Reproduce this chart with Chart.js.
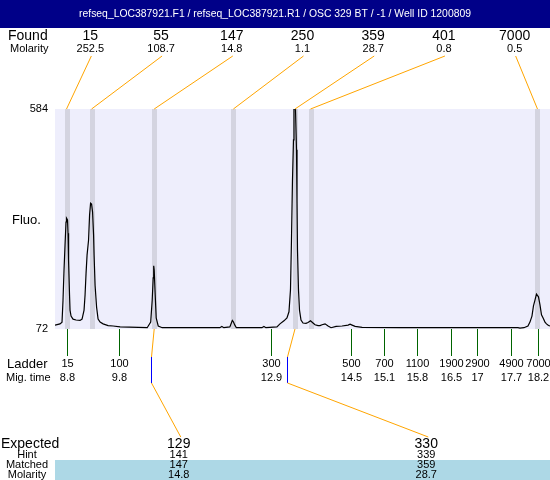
<!DOCTYPE html>
<html>
<head>
<meta charset="utf-8">
<script src="https://cdn.jsdelivr.net/npm/chart.js@4"></script>
<style>
  html, body { margin: 0; padding: 0; background: #fff; }
  canvas { display: block; }
</style>
</head>
<body>
<canvas id="gel" width="550" height="480"></canvas>
<script>
const TITLE = "refseq_LOC387921.F1 / refseq_LOC387921.R1 / OSC 329 BT / -1 / Well ID 1200809";
const FONT = '"Liberation Sans", Arial, sans-serif';

// trace: migration time (s) vs fluorescence
const traceTime = [8.56, 8.66, 8.70, 8.72, 8.74, 8.76, 8.78, 8.79, 8.81, 8.82, 8.83, 8.85, 8.86, 8.88, 8.92, 8.98,
  9.06, 9.10, 9.14, 9.16, 9.18, 9.20, 9.23, 9.25, 9.27, 9.29, 9.31, 9.33, 9.34, 9.36, 9.39, 9.42, 9.46, 9.52,
  9.62, 9.72, 9.86, 10.40, 10.47, 10.50, 10.52, 10.53, 10.54, 10.56, 10.58, 10.62, 10.70, 11.85, 11.89, 11.93,
  12.05, 12.08, 12.10, 12.12, 12.15, 12.18, 12.69, 12.73, 12.77, 12.99, 13.05, 13.13, 13.19, 13.23, 13.26,
  13.28, 13.30, 13.32, 13.33, 13.36, 13.38, 13.39, 13.40, 13.42, 13.44, 13.47, 13.51, 13.57, 13.61, 13.66,
  13.71, 13.75, 13.81, 13.85, 13.89, 13.95, 14.01, 14.07, 14.17, 14.29, 14.41, 14.45, 14.49, 14.55, 14.69,
  15.45, 16.45, 17.80, 17.84, 17.92, 18.00, 18.04, 18.08, 18.11, 18.14, 18.17, 18.21, 18.24, 18.27, 18.30,
  18.34, 18.37, 18.41, 18.44];
const traceFluo = [81, 84, 88, 139, 209, 267, 321, 330, 326, 295, 233, 151, 116, 102, 95, 93,
  92, 95, 116, 151, 202, 244, 279, 337, 365, 363, 344, 291, 244, 174, 123, 95, 88, 84,
  80, 79, 77, 75, 88, 139, 191, 219, 209, 151, 98, 79, 75, 75, 78, 75,
  77, 86, 92, 89, 81, 75, 75, 78, 75, 77, 84, 91, 98, 112, 163,
  279, 419, 512, 584, 584, 489, 372, 256, 163, 116, 93, 86, 85, 87, 91,
  86, 82, 80, 80, 82, 84, 79, 75, 78, 79, 81, 83, 81, 78, 76,
  75, 75, 75, 74, 75, 79, 88, 102, 126, 139, 153, 147, 128, 105, 98,
  88, 84, 80, 79];
const xMin = 8.56, xMax = 18.44;
const yTicks = [72, 584];

// found peaks
const foundSize = [15, 55, 147, 250, 359, 401, 7000];
const foundMolarity = [252.5, 108.7, 14.8, 1.1, 28.7, 0.8, 0.5];
const foundTime = [8.79, 9.29, 10.54, 12.12, 13.35, 13.66, 18.19];

// ladder
const ladderSize = [15, 100, 300, 500, 700, 1100, 1900, 2900, 4900, 7000];
const ladderTime = [8.80, 9.84, 12.87, 14.46, 15.12, 15.78, 16.46, 16.98, 17.67, 18.21];

// expected fragments
const expectedSize = [129, 330];
const expectedTime = [10.48, 13.20];
const hintSize = [141, 339];
const matchedSize = [147, 359];
const matchedMolarity = [14.8, 28.7];

function text(ctx, s, x, y, size, align, color){
  ctx.font = `${size}px ${FONT}`;
  ctx.fillStyle = color || "#000";
  ctx.textAlign = align || "center";
  ctx.textBaseline = "middle";
  ctx.fillText(String(s), x, y);
}

function line(ctx, pts, color){
  ctx.strokeStyle = color;
  ctx.lineWidth = 1;
  ctx.beginPath();
  pts.forEach((p, i) => i ? ctx.lineTo(p[0], p[1]) : ctx.moveTo(p[0], p[1]));
  ctx.stroke();
}

// crisp 1px vertical rule
function vrule(ctx, x, y0, y1, color){
  ctx.fillStyle = color;
  ctx.fillRect(Math.round(x), Math.round(y0), 1, Math.round(y1 - y0));
}

const backdrop = {
  id: "backdrop",
  beforeDraw(chart){
    const { ctx, chartArea: a, scales } = chart;
    const x = scales.x;
    ctx.save();
    ctx.fillStyle = "#fff";
    ctx.fillRect(0, 0, chart.width, chart.height);
    ctx.fillStyle = "#000088";
    ctx.fillRect(0, 0, chart.width, 28);
    text(ctx, TITLE, chart.width / 2, 14, 10.4, "center", "#fff");
    ctx.fillStyle = "#eeeefc";
    ctx.fillRect(a.left, a.top, a.right - a.left, a.bottom - a.top);
    ctx.fillStyle = "#d4d4e0";
    foundTime.forEach((t) => {
      const px = Math.round(x.getPixelForValue(t));
      ctx.fillRect(px - 2, a.top, 5, a.bottom - a.top);
    });
    ctx.restore();
  },
  afterDraw(chart){
    const { ctx, chartArea: a, scales } = chart;
    const x = scales.x;
    const w = a.right - a.left;
    ctx.save();

    // found row
    text(ctx, "Found", 8, 36, 14, "left");
    text(ctx, "Molarity", 10, 49, 11, "left");
    const fw = w / foundSize.length;
    foundSize.forEach((s, i) => {
      const cx = a.left + (i + 0.5) * fw;
      text(ctx, s, cx, 36, 14);
      text(ctx, foundMolarity[i], cx, 49, 11);
      line(ctx, [[cx + 1, 56], [x.getPixelForValue(foundTime[i]), a.top]], "#ffa500");
    });

    text(ctx, "Fluo.", 12, 220, 13, "left");

    // ladder
    ladderTime.forEach((t, i) => {
      const px = x.getPixelForValue(t);
      vrule(ctx, px, a.bottom, a.bottom + 27, "#006400");
      text(ctx, ladderSize[i], Math.round(px) + 0.5, 364, 11);
      text(ctx, +t.toFixed(1), Math.round(px) + 0.5, 378, 11);
    });
    text(ctx, "Ladder", 7, 364, 13, "left");
    text(ctx, "Mig. time", 6, 378, 11, "left");

    // expected table
    ctx.fillStyle = "#add8e6";
    ctx.fillRect(a.left, 460, w, 20);
    const ew = w / expectedSize.length;
    expectedSize.forEach((s, i) => {
      const cx = a.left + (i + 0.5) * ew;
      const mi = foundSize.indexOf(matchedSize[i]);
      const pk = x.getPixelForValue(foundTime[mi]);
      const ex = Math.round(x.getPixelForValue(expectedTime[i]));
      line(ctx, [[pk, a.bottom], [ex + 0.5, 357]], "#ffa500");
      vrule(ctx, ex, 357, 383, "#0000ff");
      line(ctx, [[ex + 0.5, 383], [cx + 2, 437]], "#ffa500");
      text(ctx, s, cx, 444, 14);
      text(ctx, hintSize[i], cx, 455, 11);
      text(ctx, matchedSize[i], cx, 465, 11);
      text(ctx, matchedMolarity[i], cx, 475, 11);
    });
    text(ctx, "Expected", 1, 444, 14, "left");
    text(ctx, "Hint", 27, 455, 11);
    text(ctx, "Matched", 27, 465, 11);
    text(ctx, "Molarity", 27, 475, 11);
    ctx.restore();
  },
};

new Chart(document.getElementById("gel"), {
  type: "line",
  data: {
    datasets: [{
      data: traceTime.map((t, i) => ({ x: t, y: traceFluo[i] })),
      borderColor: "#000",
      borderWidth: 1.2,
      pointRadius: 0,
      tension: 0,
      fill: false,
    }],
  },
  options: {
    responsive: false,
    animation: false,
    devicePixelRatio: 1,
    layout: { padding: { top: 109, bottom: 151, left: 0, right: 0 } },
    plugins: { legend: { display: false }, tooltip: { enabled: false } },
    scales: {
      x: { type: "linear", min: xMin, max: xMax, display: false },
      y: {
        min: yTicks[0],
        max: yTicks[1],
        afterBuildTicks: (s) => { s.ticks = yTicks.map((v) => ({ value: v })); },
        afterFit: (s) => { s.width = 55; },
        grid: { display: false, drawTicks: false },
        border: { display: false },
        ticks: { color: "#000", padding: 7, font: { size: 11, family: FONT } },
      },
    },
  },
  plugins: [backdrop],
});
</script>
</body>
</html>
